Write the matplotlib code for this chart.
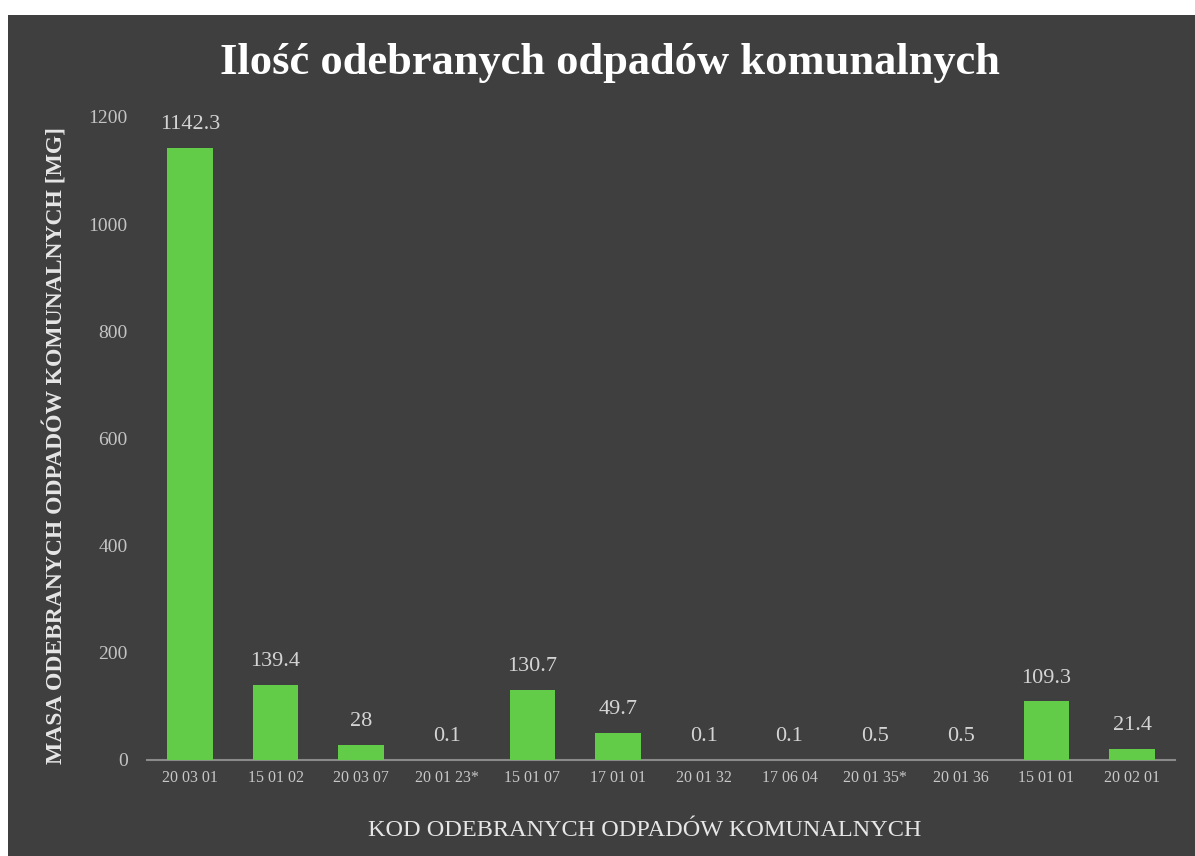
import matplotlib.pyplot as plt
from matplotlib.patches import Rectangle

# data
codes = ['20 03 01', '15 01 02', '20 03 07', '20 01 23*', '15 01 07', '17 01 01',
         '20 01 32', '17 06 04', '20 01 35*', '20 01 36', '15 01 01', '20 02 01']
masses = [1142.3, 139.4, 28, 0.1, 130.7, 49.7, 0.1, 0.1, 0.5, 0.5, 109.3, 21.4]
value_labels = ['1142.3', '139.4', '28', '0.1', '130.7', '49.7',
                '0.1', '0.1', '0.5', '0.5', '109.3', '21.4']

BG = '#3f3f3f'
GREEN = '#62cc48'
SERIF = ['Liberation Serif', 'DejaVu Serif']

fig = plt.figure(figsize=(11.95, 8.56), dpi=100, facecolor='white')

# dark panel (scan has a white paper edge top and left)
fig.patches.append(Rectangle((8 / 1195, 0), 1, (856 - 15) / 856,
                             transform=fig.transFigure, facecolor=BG,
                             edgecolor='none', zorder=-10))

ax = fig.add_axes([147 / 1195, (856 - 760) / 856, (1175 - 147) / 1195, 643 / 856])
ax.set_facecolor('none')

x = list(range(len(codes)))
ax.bar(x, masses, width=0.53, color=GREEN, zorder=3)

for xi, (m, lab) in enumerate(zip(masses, value_labels)):
    ax.annotate(lab, xy=(xi, m), xytext=(0, 10), textcoords='offset points',
                ha='center', va='bottom', fontsize=16, color='#d4d4d4',
                family=SERIF)

ax.set_xlim(-0.5, 11.5)
ax.set_ylim(0, 1200)
ax.set_yticks(range(0, 1201, 200))
ax.set_xticks(x)
ax.set_xticklabels(codes, fontsize=11.5, color='#c8c8c8', family=SERIF)
for t in ax.get_yticklabels():
    t.set_family(SERIF)
ax.tick_params(axis='y', labelsize=14, labelcolor='#c4c4c4', length=0, pad=14)
ax.tick_params(axis='x', length=0, pad=7)

for s in ['top', 'right', 'left']:
    ax.spines[s].set_visible(False)
ax.spines['bottom'].set_color('#8a8a8a')
ax.spines['bottom'].set_linewidth(1.5)

ax.set_ylabel('MASA ODEBRANYCH ODPADÓW KOMUNALNYCH [MG]', fontsize=17,
              fontweight='bold', color='#e6e6e6', family=SERIF)
ax.yaxis.set_label_coords((68 - 147) / 1028, (760 - 445) / 643)
ax.set_xlabel('KOD ODEBRANYCH ODPADÓW KOMUNALNYCH', fontsize=17.5,
              color='#e6e6e6', family=SERIF)
ax.xaxis.set_label_coords((645 - 147) / 1028, -(820 - 760) / 643)

fig.text(610 / 1195, 1 - 63 / 856, 'Ilość odebranych odpadów komunalnych',
         ha='center', va='center', fontsize=32, fontweight='bold',
         color='white', family=SERIF)

fig.savefig('out.png', dpi=100, facecolor=fig.get_facecolor())
